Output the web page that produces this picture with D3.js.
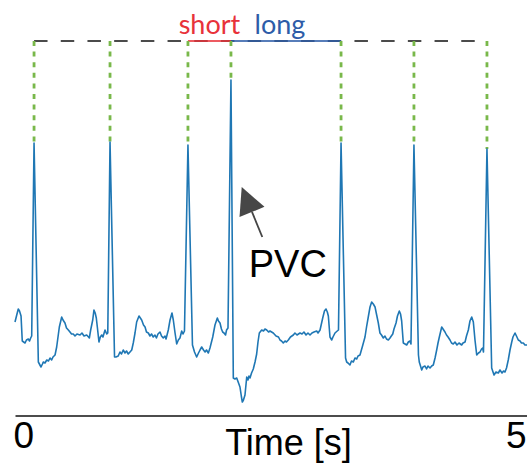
<!DOCTYPE html>
<html>
<head>
<meta charset="utf-8">
<script src="https://cdn.jsdelivr.net/npm/d3@7"></script>
<style>
  html, body { margin: 0; padding: 0; background: #fff; }
  svg { display: block; }
</style>
</head>
<body>
<svg id="chart" width="527" height="463"></svg>
<script>
// ECG lead trace, 5 s window (time in s, amplitude in mV)
const timeS = [
  0.000, 0.017, 0.032, 0.044, 0.059, 0.071, 0.098, 0.112, 0.130, 0.142, 0.153, 0.163,
  0.186,
  0.228, 0.254, 0.268, 0.276, 0.293, 0.310, 0.327, 0.342, 0.358, 0.371, 0.391, 0.407,
  0.433, 0.456, 0.469, 0.488, 0.503, 0.521, 0.537, 0.552, 0.569, 0.586, 0.605, 0.635,
  0.654, 0.674, 0.700, 0.718, 0.726, 0.739, 0.759, 0.771, 0.783, 0.794, 0.804, 0.820,
  0.833, 0.847, 0.859, 0.879, 0.896, 0.906,
  0.928,
  0.972, 0.986, 1.008, 1.025, 1.040, 1.057, 1.074, 1.089, 1.106, 1.123, 1.140, 1.155,
  1.172, 1.188, 1.211, 1.237, 1.255, 1.270, 1.284, 1.302, 1.318, 1.333, 1.350, 1.367,
  1.381, 1.396, 1.416, 1.431, 1.448, 1.465, 1.475, 1.497, 1.514, 1.533, 1.546, 1.563,
  1.579, 1.595, 1.611, 1.628, 1.641, 1.655,
  1.689,
  1.733, 1.753, 1.774, 1.792, 1.807, 1.823, 1.841, 1.856, 1.870, 1.888, 1.904, 1.931,
  1.953, 1.976, 1.987, 2.002, 2.016, 2.028, 2.041, 2.056, 2.066, 2.080,
  2.109,
  2.132, 2.148, 2.165, 2.183, 2.197, 2.210, 2.220, 2.231, 2.246, 2.263, 2.275, 2.285,
  2.295, 2.310, 2.327, 2.344, 2.360, 2.373, 2.386, 2.409, 2.427, 2.441, 2.458, 2.476,
  2.490, 2.522, 2.549, 2.573, 2.588, 2.603, 2.620, 2.637, 2.651, 2.669, 2.690, 2.718,
  2.734, 2.754, 2.783, 2.803, 2.822, 2.842, 2.861, 2.881, 2.900, 2.920, 2.946, 2.959,
  2.979, 3.005, 3.022, 3.037, 3.050, 3.060, 3.076, 3.093, 3.105, 3.125, 3.147, 3.159,
  3.184,
  3.228, 3.239, 3.252, 3.271, 3.286, 3.304, 3.320, 3.337, 3.350, 3.369, 3.394, 3.418,
  3.433, 3.450, 3.467, 3.483, 3.499, 3.516, 3.532, 3.548, 3.564, 3.579, 3.597, 3.613,
  3.628, 3.646, 3.662, 3.675, 3.689, 3.701, 3.721, 3.735, 3.753, 3.765, 3.776, 3.792,
  3.809, 3.825, 3.841, 3.857, 3.867,
  3.896,
  3.940, 3.948, 3.972, 3.984, 4.004, 4.019, 4.033, 4.053, 4.069, 4.085, 4.102, 4.118,
  4.131, 4.144, 4.167, 4.180, 4.199, 4.214, 4.229, 4.248, 4.263, 4.280, 4.297, 4.316,
  4.336, 4.362, 4.375, 4.395, 4.409, 4.427, 4.443, 4.460, 4.476, 4.492, 4.509, 4.526,
  4.541, 4.556, 4.567, 4.575,
  4.609,
  4.655, 4.678, 4.697, 4.720, 4.736, 4.756, 4.771, 4.785, 4.800, 4.817, 4.834, 4.851,
  4.863, 4.883, 4.897, 4.915, 4.932, 4.946, 4.964, 4.980, 5.000
];

const voltageMV = [
  0.08, 0.15, 0.21, 0.19, 0.14, -0.11, -0.13, -0.10, -0.09, -0.11, -0.08, -0.06,
  1.87,
  -0.32, -0.37, -0.34, -0.32, -0.33, -0.30, -0.31, -0.28, -0.30, -0.27, -0.25, -0.17,
  0.03, 0.13, 0.10, 0.07, 0.02, 0.00, -0.02, -0.04, -0.04, -0.06, -0.04, -0.05,
  -0.03, -0.06, -0.05, -0.07, -0.08, 0.00, 0.10, 0.20, 0.17, 0.12, 0.03, -0.12,
  -0.07, -0.05, -0.07, 0.00, -0.04, -0.03,
  1.88,
  -0.27, -0.27, -0.26, -0.22, -0.24, -0.20, -0.23, -0.21, -0.24, -0.22, -0.20, -0.13,
  -0.03, 0.08, 0.14, 0.10, 0.05, 0.03, -0.02, -0.03, -0.06, -0.04, -0.07, -0.05,
  -0.08, -0.04, -0.02, -0.06, -0.08, -0.06, -0.09, 0.00, 0.10, 0.17, 0.10, -0.03,
  -0.14, -0.10, -0.08, -0.01, -0.04, -0.01,
  1.85,
  -0.15, -0.22, -0.27, -0.23, -0.20, -0.17, -0.20, -0.22, -0.20, -0.23, -0.18, -0.07,
  0.05, 0.12, 0.09, 0.07, 0.01, -0.02, -0.03, -0.05, 0.00, 0.02,
  2.50,
  -0.48, -0.49, -0.48, -0.53, -0.57, -0.66, -0.72, -0.70, -0.65, -0.47, -0.50, -0.46,
  -0.48, -0.43, -0.39, -0.32, -0.24, -0.12, -0.03, 0.00, -0.01, 0.01, 0.00, -0.02,
  -0.01, -0.03, -0.06, -0.07, -0.10, -0.11, -0.13, -0.11, -0.12, -0.10, -0.07, -0.05,
  -0.03, -0.05, -0.03, -0.04, -0.02, -0.05, -0.03, -0.05, -0.03, -0.02, -0.01, -0.03,
  0.00, 0.12, 0.19, 0.21, 0.18, 0.14, -0.07, -0.10, -0.07, -0.03, -0.01, 0.00,
  1.87,
  -0.28, -0.32, -0.33, -0.35, -0.31, -0.32, -0.28, -0.29, -0.26, -0.25, -0.16, -0.07,
  0.03, 0.13, 0.23, 0.28, 0.26, 0.23, 0.15, 0.07, -0.03, -0.05, -0.08, -0.06,
  -0.09, -0.10, -0.08, -0.06, -0.04, 0.01, 0.07, 0.14, 0.19, 0.16, 0.09, -0.13,
  -0.14, -0.15, -0.12, -0.11, -0.14,
  1.85,
  -0.25, -0.32, -0.40, -0.37, -0.36, -0.39, -0.36, -0.38, -0.36, -0.35, -0.28, -0.20,
  -0.13, -0.07, 0.03, 0.01, -0.02, -0.05, -0.07, -0.10, -0.13, -0.14, -0.12, -0.15,
  -0.13, -0.15, -0.13, -0.12, -0.06, 0.00, 0.09, 0.13, 0.08, -0.10, -0.25, -0.23,
  -0.22, -0.19, -0.18, -0.22,
  1.81,
  -0.38, -0.45, -0.42, -0.43, -0.40, -0.43, -0.41, -0.42, -0.38, -0.30, -0.20, -0.12,
  -0.07, -0.03, -0.06, -0.10, -0.11, -0.13, -0.13, -0.15, -0.15
];

// R-wave peaks (the fourth beat is the premature ventricular contraction)
const rPeakTimes = [0.186, 0.928, 1.689, 2.109, 3.184, 3.896, 4.609];
const rPeakValues = [1.87, 1.88, 1.85, 2.50, 1.87, 1.85, 1.81];

// RR-interval annotation level and the coupling / compensatory intervals
const markerLevel = 2.89;
const intervalLabels = ["short", "long"];
const intervalStart = [1.689, 2.109];
const intervalEnd = [2.109, 3.184];

const axisTicks = [0, 5];
const axisTickLabels = ["0", "5"];
const axisTitle = "Time [s]";

const pvcLabel = "PVC";
const pvcArrowTail = [2.415, 0.93];
const pvcArrowTip = [2.214, 1.43];
const pvcLabelPos = [2.283, 0.53];

const svg = d3.select("#chart");

const x = d3.scaleLinear().domain([0, 5]).range([15, 527]);
const y = d3.scaleLinear().domain([-0.85, 2.89]).range([415, 41]);

const beats = timeS.map((t, i) => ({ t, v: voltageMV[i] }));
const peaks = rPeakTimes.map((t, i) => ({ t, v: rPeakValues[i] }));

// Dashed marker across all beats
svg.append("line")
  .attr("x1", x(rPeakTimes[0])).attr("x2", x(rPeakTimes[rPeakTimes.length - 1]))
  .attr("y1", y(markerLevel)).attr("y2", y(markerLevel))
  .attr("stroke", "#111").attr("stroke-width", 1.4)
  .attr("stroke-dasharray", "13.5,13.2");

// Short / long interval bars with their labels
const intervalColors = ["#e8323a", "#2d5ca8"];
intervalStart.forEach((s, i) => {
  svg.append("line")
    .attr("x1", x(s)).attr("x2", x(intervalEnd[i]))
    .attr("y1", y(markerLevel)).attr("y2", y(markerLevel))
    .attr("stroke", intervalColors[i]).attr("stroke-width", 1.8)
    .attr("stroke-opacity", 0.8);
  svg.append("text")
    .attr("x", (x(s) + x(intervalEnd[i])) / 2 + (i === 0 ? 0 : -6))
    .attr("y", 34)
    .attr("text-anchor", "middle")
    .attr("font-family", "Lato, 'Open Sans', sans-serif")
    .attr("font-size", 27)
    .attr("fill", intervalColors[i])
    .text(intervalLabels[i]);
});

// Green dotted drop lines from the marker level to each R peak
svg.append("g").selectAll("line")
  .data(peaks)
  .join("line")
  .attr("x1", d => x(d.t)).attr("x2", d => x(d.t))
  .attr("y1", y(markerLevel)).attr("y2", d => y(d.v))
  .attr("stroke", "#79b84a").attr("stroke-width", 2.8)
  .attr("stroke-dasharray", "5,5.6");

// ECG trace
svg.append("path")
  .datum(beats)
  .attr("fill", "none")
  .attr("stroke", "#1f77b4")
  .attr("stroke-width", 1.6)
  .attr("stroke-linejoin", "round")
  .attr("d", d3.line().x(d => x(d.t)).y(d => y(d.v)));

// PVC arrow
const tail = [x(pvcArrowTail[0]), y(pvcArrowTail[1])];
const tip = [x(pvcArrowTip[0]), y(pvcArrowTip[1])];
const dx = tip[0] - tail[0], dy = tip[1] - tail[1];
const len = Math.hypot(dx, dy);
const ux = dx / len, uy = dy / len;
const headLen = 27, headHalf = 13.5;
const base = [tip[0] - ux * headLen, tip[1] - uy * headLen];
svg.append("line")
  .attr("x1", tail[0]).attr("y1", tail[1])
  .attr("x2", base[0]).attr("y2", base[1])
  .attr("stroke", "#444").attr("stroke-width", 1.8);
svg.append("path")
  .attr("d", d3.line()([
    tip,
    [base[0] - uy * headHalf, base[1] + ux * headHalf],
    [base[0] + uy * headHalf, base[1] - ux * headHalf]
  ]) + "Z")
  .attr("fill", "#474747");

svg.append("text")
  .attr("x", x(pvcLabelPos[0])).attr("y", y(pvcLabelPos[1]))
  .attr("font-family", "'Liberation Sans', Arial, sans-serif")
  .attr("font-size", 38)
  .attr("fill", "#000")
  .text(pvcLabel);

// Time axis
const axis = d3.axisBottom(x)
  .tickValues(axisTicks)
  .tickFormat((d, i) => axisTickLabels[i])
  .tickSize(0)
  .tickSizeOuter(0)
  .tickPadding(0);

const gAxis = svg.append("g")
  .attr("transform", `translate(0,${y(-0.85) + 0.5})`)
  .call(axis);
gAxis.select(".domain").attr("stroke", "#111").attr("stroke-width", 1.6);
gAxis.selectAll(".tick text")
  .attr("font-family", "'Liberation Sans', Arial, sans-serif")
  .attr("font-size", 37)
  .attr("fill", "#000")
  .attr("dy", 0)
  .attr("y", 32.5)
  .attr("text-anchor", (d, i) => i === 0 ? "start" : "end")
  .attr("dx", (d, i) => i === 0 ? -2 : -1);

svg.append("text")
  .attr("x", 288.5).attr("y", 455)
  .attr("text-anchor", "middle")
  .attr("font-family", "'Liberation Sans', Arial, sans-serif")
  .attr("font-size", 36)
  .attr("fill", "#000")
  .text(axisTitle);
</script>
</body>
</html>
